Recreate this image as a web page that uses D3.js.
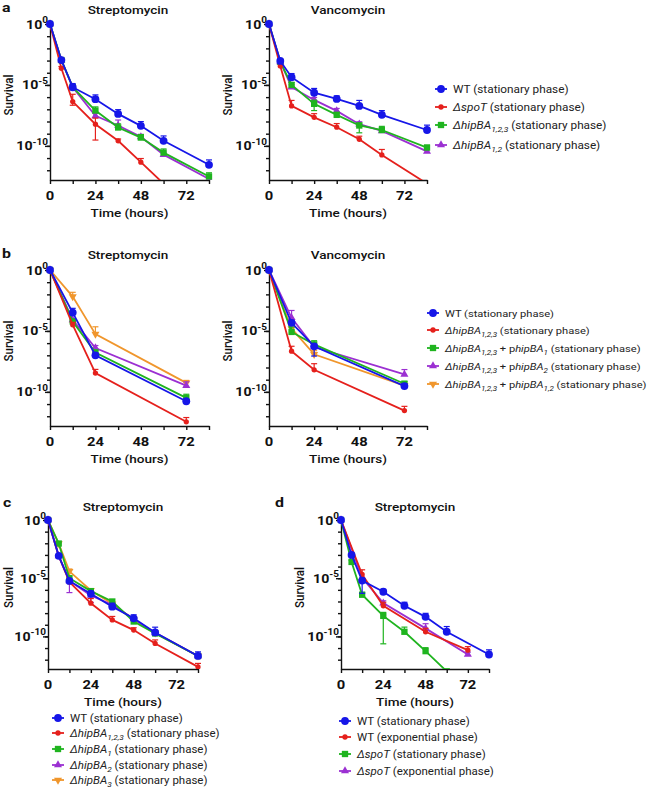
<!DOCTYPE html>
<html><head><meta charset="utf-8">
<script src="https://cdn.jsdelivr.net/npm/d3@7"></script>
<style>body{margin:0;background:#fff} svg{display:block;font-family:Roboto,'Noto Sans',sans-serif}</style>
</head><body><svg id="chart" width="658" height="788"></svg>
<script>
// ---------------- DATA ----------------
const timesFull = [0, 6, 12, 24, 36, 48, 60, 84];
const timesShort = [0, 6, 12, 24, 36, 48, 60];
const timesB = [0, 12, 24, 72];
const timesExp = [0, 12, 24, 48, 72];
const xTicks = [0, 12, 24, 36, 48, 60, 72, 84];
const xTickLabels = [0, 24, 48, 72];
const yLabelExponents = [0, -5, -10];

// panel a, Streptomycin (survival)
const aStrWT     = [1, 1.1e-3, 6.5e-6, 6.8e-7, 4.2e-8, 4.4e-9, 2.6e-10, 2.8e-12];
const aStrSpoT   = [1, 2.3e-4, 4.3e-7, 6.0e-9, 2.6e-10, 4.6e-12, 8e-14];
const aStrHip123 = [1, 1.1e-3, 6.5e-6, 7.9e-8, 3.2e-9, 4.8e-10, 2.8e-11, 3.1e-13];
const aStrHip12  = [1, 1.1e-3, 6.5e-6, 2.9e-8, 4.7e-9, 5.5e-10, 1.9e-11, 1.9e-13];
// panel a, Vancomycin
const aVanWT     = [1, 9.3e-4, 4.3e-5, 2.3e-6, 7.1e-7, 1.9e-7, 3.5e-8, 2.0e-9];
const aVanSpoT   = [1, 3.6e-4, 1.9e-7, 2.2e-8, 3.4e-9, 3.5e-10, 1.8e-11, 8e-14];
const aVanHip123 = [1, 7.9e-4, 1.0e-5, 2.8e-7, 3.5e-8, 4.7e-9, 2.0e-9, 7.2e-11];
const aVanHip12  = [1, 7.9e-4, 6.5e-6, 5.9e-7, 7.4e-8, 6.0e-9, 1.7e-9, 3.5e-11];
// panel b, Streptomycin
const bStrWT   = [1, 3.2e-4, 1.0e-7, 1.7e-11];
const bStrHip  = [1, 3.2e-5, 3.5e-9, 3.5e-13];
const bStrP1   = [1, 6.0e-5, 1.7e-7, 3.2e-11];
const bStrP2   = [1, 8.1e-5, 4.0e-7, 3.3e-10];
const bStrP12  = [1, 6.6e-3, 5.5e-6, 5.5e-10];
// panel b, Vancomycin
const bVanWT   = [1, 4.6e-5, 5.5e-7, 3.0e-10];
const bVanHip  = [1, 2.2e-7, 6.5e-9, 2.9e-12];
const bVanP1   = [1, 8.3e-6, 7.9e-7, 4.6e-10];
const bVanP2   = [1, 1.2e-4, 4.8e-7, 2.7e-9];
const bVanP12  = [1, 1.6e-5, 1.2e-7, 3.3e-10];
// panel c, Streptomycin
const cWT     = [1, 8.3e-4, 5.8e-6, 4.6e-7, 3.6e-8, 3.6e-9, 2.2e-10, 2.1e-12];
const cHip123 = [1, 8.3e-4, 4.7e-6, 7.1e-8, 2.6e-9, 3.5e-10, 2.5e-11, 2.4e-13];
const cHip1   = [1, 9.5e-3, 1.0e-5, 7.8e-7, 1.0e-7, 1.9e-9, 1.8e-10, 2.1e-12];
const cHip2   = [1, 8.3e-4, 5.8e-6, 3.3e-7, 5.1e-8, 3.2e-9, 2.0e-10, 2.1e-12];
const cHip3   = [1, 9.5e-3, 3.9e-5, 8.9e-7, 6.3e-8, 2.8e-9, 2.0e-10, 2.1e-12];
// panel d, Streptomycin
const dWTStat   = [1, 1.0e-3, 6.3e-6, 6.9e-7, 4.3e-8, 4.8e-9, 2.5e-10, 2.8e-12];
const dWTExp    = [1, 2.1e-5, 4.3e-8, 2.5e-10, 6.6e-12];
const dSpoTStat = [1, 2.5e-4, 3.8e-7, 5.8e-9, 2.5e-10, 5.4e-12, 1e-13];
const dSpoTExp  = [1, 1.1e-5, 7.2e-8, 4.9e-10, 2.8e-12];

// error bars (decades above / below the point)
const aStrWTErr = [0,0.1,0.3,0.35,0.35,0.35,0.4,0.4];
const aStrSpoTErr = [0,0.15,0.6,0.5,0.15,0.3,0];
const aStrSpoTErrLo = [0,0,0.3,1.3,0,0,0];
const aStrHip123Err = [0,0,0.2,0.3,0.3,0.25,0.3,0.3];
const aStrHip12Err = [0,0,0.2,0.2,0.45,0.2,0.2,0.2];
const aVanWTErr = [0,0.1,0.3,0.35,0.25,0.45,0.35,0.4];
const aVanSpoTErr = [0,0,0.45,0.3,0.3,0.25,0.45,0];
const aVanHip123Err = [0,0,0.2,0.3,0.2,0.2,0.3,0.2];
const aVanHip123ErrLo = [0,0,0,0.55,0,0.6,0,0];
const aVanHip12Err = [0,0,0.2,0.2,0.2,0.2,0.2,0.2];
const bStrWTErr = [0,0.35,0.2,0.15];
const bStrHipErr = [0,0.2,0.3,0.35];
const bStrP1Err = [0,0.1,0.2,0.3];
const bStrP2Err = [0,0.1,0.2,0.3];
const bStrP12Err = [0,0.35,0.6,0.2];
const bVanWTErr = [0,0.2,0.2,0.2];
const bVanWTErrLo = [0,0,0.8,0];
const bVanHipErr = [0,0.4,0.5,0.35];
const bVanP1Err = [0,0.4,0.3,0.2];
const bVanP2Err = [0,0.6,0.2,0.4];
const bVanP12Err = [0,0,0.3,0.2];
const cWTErr = [0,0,0.1,0.2,0.3,0.3,0.45,0.35];
const cHip123Err = [0,0,0.2,0.4,0.3,0.2,0.3,0.3];
const cHip2ErrLo = [0,0,1.0,0.6,0,0,0,0];
const cHip3Err = [0,0,0.2,0,0,0,0,0];
const dWTStatErr = [0,0,0.2,0.2,0.3,0.3,0.45,0.4];
const dWTStatErrLo = [0,0,1.1,0,0,0,0,0];
const dWTExpErr = [0,0.4,0.3,0.3,0.3];
const dSpoTStatErr = [0,0.15,0.2,0.3,0.4,0.3,0];
const dSpoTStatErrLo = [0,0,0,2.4,0,0,0];
const dSpoTExpErr = [0,0,0.2,0.4,0.2];

// legend labels  (*italic*, _{subscript})
const legendA = ["WT (stationary phase)", "*ΔspoT* (stationary phase)", "*ΔhipBA*_{1,2,3} (stationary phase)", "*ΔhipBA*_{1,2} (stationary phase)"];
const legendB = ["WT (stationary phase)", "*ΔhipBA*_{1,2,3} (stationary phase)", "*ΔhipBA*_{1,2,3} + p*hipBA*_{1} (stationary phase)", "*ΔhipBA*_{1,2,3} + p*hipBA*_{2} (stationary phase)", "*ΔhipBA*_{1,2,3} + p*hipBA*_{1,2} (stationary phase)"];
const legendC = ["WT (stationary phase)", "*ΔhipBA*_{1,2,3} (stationary phase)", "*ΔhipBA*_{1} (stationary phase)", "*ΔhipBA*_{2} (stationary phase)", "*ΔhipBA*_{3} (stationary phase)"];
const legendD = ["WT (stationary phase)", "WT (exponential phase)", "*ΔspoT* (stationary phase)", "*ΔspoT* (exponential phase)"];

// ---------------- STYLE ----------------
const COL = {blue:"#1616e8", red:"#e5201c", green:"#1fb41f", purple:"#9b30d2", orange:"#f0962c"};
const SX = 1.18; // horizontal text stretch of the original figure

const svg = d3.select("#chart");

function parseRich(str){
  const segs=[]; let cur="", it=false, i=0;
  const push=()=>{ if(cur){segs.push({t:cur,it,sub:false}); cur="";} };
  while(i<str.length){
    const ch=str[i];
    if(ch==="*"){ push(); it=!it; i++; }
    else if(ch==="_" && str[i+1]==="{"){ push(); const j=str.indexOf("}",i); segs.push({t:str.slice(i+2,j),it:true,sub:true}); i=j+1; }
    else { cur+=ch; i++; }
  }
  push();
  return segs;
}

function richText(g, x, y, str, size, sx){
  const t=g.append("text").attr("transform",`translate(${x},${y}) scale(${sx},1)`)
    .attr("font-size",size).attr("font-weight",400).attr("fill","#222");
  let shifted=false;
  parseRich(str).forEach(s=>{
    const ts=t.append("tspan").text(s.t);
    if(s.it) ts.attr("font-style","italic");
    if(s.sub){ ts.attr("font-size",size*0.72).attr("dy",size*0.32); shifted=true; }
    else if(shifted){ ts.attr("dy",-size*0.32); shifted=false; }
  });
  return t;
}

function plainText(g, x, y, str, size, weight, anchor){
  return g.append("text").attr("transform",`translate(${x},${y}) scale(${SX},1)`)
    .attr("font-size",size).attr("font-weight",weight).attr("text-anchor",anchor||"start")
    .attr("fill","#111").text(str);
}

function markerPath(shape){
  const sym = d3.symbol();
  if(shape==="circle") return sym.type(d3.symbolCircle).size(48)();
  if(shape==="dot") return sym.type(d3.symbolCircle).size(22)();
  if(shape==="square") return sym.type(d3.symbolSquare).size(40)();
  return sym.type(d3.symbolTriangle).size(28)();
}

let clipId=0;
function panel(cfg){
  const g=svg.append("g");
  const x=d3.scaleLinear().domain([0,84]).range([cfg.x0,cfg.x1]);
  const y=d3.scaleLog().domain([Math.pow(10,-12.8),1]).range([cfg.yBot,cfg.yTop]);
  const id="clip"+(clipId++);
  svg.append("clipPath").attr("id",id).append("rect")
     .attr("x",cfg.x0-8).attr("y",cfg.yTop-10).attr("width",cfg.x1-cfg.x0+20).attr("height",cfg.yBot-cfg.yTop+10);

  // axes
  const minor=d3.range(0,-13,-1).map(e=>Math.pow(10,e));
  g.append("g").attr("transform",`translate(${cfg.x0},0)`)
    .call(d3.axisLeft(y).tickValues(minor).tickSize(3).tickSizeOuter(0).tickFormat(""));
  g.append("g").attr("transform",`translate(${cfg.x0},0)`)
    .call(d3.axisLeft(y).tickValues(yLabelExponents.map(e=>Math.pow(10,e))).tickSize(5).tickSizeOuter(0).tickFormat(""))
    .select(".domain").remove();
  g.append("g").attr("transform",`translate(0,${cfg.yBot})`)
    .call(d3.axisBottom(x).tickValues(xTicks).tickSize(4).tickSizeOuter(0).tickFormat(""));
  g.selectAll(".domain, .tick line").attr("stroke","#111").attr("stroke-width",1.4);

  yLabelExponents.forEach(e=>{
    const t=g.append("text").attr("transform",`translate(${cfg.x0-2},${y(Math.pow(10,e))+4.5}) scale(${SX},1)`)
      .attr("text-anchor","end").attr("font-size",12).attr("font-weight",700).attr("fill","#111");
    t.append("tspan").text("10");
    t.append("tspan").text(String(e)).attr("font-size",8.5).attr("dy",-5.5);
  });
  xTickLabels.forEach(v=>plainText(g,x(v),cfg.yBot+20,String(v),12.5,700,"middle"));
  plainText(g,(cfg.x0+cfg.x1)/2,cfg.yBot+37,"Time (hours)",11.5,500,"middle");
  g.append("text").attr("transform",`translate(${cfg.x0-cfg.survOff},${(cfg.yTop+cfg.yBot)/2-7}) rotate(-90) scale(1,${SX})`)
    .attr("text-anchor","middle").attr("font-size",11.5).attr("font-weight",500).attr("fill","#111").text("Survival");
  plainText(g,cfg.titleX,cfg.titleY,cfg.title,11.5,500,"middle");
  if(cfg.letter) plainText(g,cfg.letter[1],cfg.letter[2],cfg.letter[0],13.5,700,"start");

  // series (draw last legend item first so WT ends on top)
  const plot=g.append("g").attr("clip-path",`url(#${id})`);
  cfg.series.slice().reverse().forEach(s=>{
    const pts=s.t.map((t,i)=>({t,v:s.v[i],up:(s.up||[])[i]||0,lo:(s.lo||[])[i]||0}));
    const sg=plot.append("g");
    sg.append("path").datum(pts)
      .attr("d",d3.line().x(d=>x(d.t)).y(d=>y(d.v)))
      .attr("fill","none").attr("stroke",s.c).attr("stroke-width",1.8);
    pts.forEach(d=>{
      const px=x(d.t), py=y(d.v);
      [[d.up,1],[d.lo,-1]].forEach(([e,dir])=>{
        if(e>0){
          const ey=y(d.v*Math.pow(10,dir*e));
          sg.append("line").attr("x1",px).attr("x2",px).attr("y1",py).attr("y2",ey).attr("stroke",s.c).attr("stroke-width",1.2);
          sg.append("line").attr("x1",px-3).attr("x2",px+3).attr("y1",ey).attr("y2",ey).attr("stroke",s.c).attr("stroke-width",1.2);
        }
      });
    });
    sg.selectAll("path.m").data(pts).enter().append("path").attr("class","m")
      .attr("d",markerPath(s.m))
      .attr("transform",d=>`translate(${x(d.t)},${y(d.v)})${s.m==="tridown"?" rotate(180)":""}`)
      .attr("fill",s.c);
  });
}

function legend(x, ys, labels, series, size, sx){
  const g=svg.append("g");
  labels.forEach((lab,i)=>{
    const s=series[i], cy=ys[i];
    g.append("line").attr("x1",x-6).attr("x2",x+6).attr("y1",cy).attr("y2",cy).attr("stroke",s.c).attr("stroke-width",1.8);
    g.append("path").attr("d",markerPath(s.m)).attr("transform",`translate(${x},${cy})${s.m==="tridown"?" rotate(180)":""}`).attr("fill",s.c);
    richText(g,x+12,cy+3.6,lab,size,sx);
  });
}

// ---------- series definitions ----------
const sA1=[
  {t:timesFull,v:aStrWT,up:aStrWTErr,c:COL.blue,m:"circle"},
  {t:timesShort,v:aStrSpoT,up:aStrSpoTErr,lo:aStrSpoTErrLo,c:COL.red,m:"dot"},
  {t:timesFull,v:aStrHip123,up:aStrHip123Err,c:COL.green,m:"square"},
  {t:timesFull,v:aStrHip12,up:aStrHip12Err,c:COL.purple,m:"tri"}];
const sA2=[
  {t:timesFull,v:aVanWT,up:aVanWTErr,c:COL.blue,m:"circle"},
  {t:timesFull,v:aVanSpoT,up:aVanSpoTErr,c:COL.red,m:"dot"},
  {t:timesFull,v:aVanHip123,up:aVanHip123Err,lo:aVanHip123ErrLo,c:COL.green,m:"square"},
  {t:timesFull,v:aVanHip12,up:aVanHip12Err,c:COL.purple,m:"tri"}];
const sB1=[
  {t:timesB,v:bStrWT,up:bStrWTErr,c:COL.blue,m:"circle"},
  {t:timesB,v:bStrHip,up:bStrHipErr,c:COL.red,m:"dot"},
  {t:timesB,v:bStrP1,up:bStrP1Err,c:COL.green,m:"square"},
  {t:timesB,v:bStrP2,up:bStrP2Err,c:COL.purple,m:"tri"},
  {t:timesB,v:bStrP12,up:bStrP12Err,c:COL.orange,m:"tridown"}];
const sB2=[
  {t:timesB,v:bVanWT,up:bVanWTErr,lo:bVanWTErrLo,c:COL.blue,m:"circle"},
  {t:timesB,v:bVanHip,up:bVanHipErr,c:COL.red,m:"dot"},
  {t:timesB,v:bVanP1,up:bVanP1Err,c:COL.green,m:"square"},
  {t:timesB,v:bVanP2,up:bVanP2Err,c:COL.purple,m:"tri"},
  {t:timesB,v:bVanP12,up:bVanP12Err,c:COL.orange,m:"tridown"}];
const sC=[
  {t:timesFull,v:cWT,up:cWTErr,c:COL.blue,m:"circle"},
  {t:timesFull,v:cHip123,up:cHip123Err,c:COL.red,m:"dot"},
  {t:timesFull,v:cHip1,c:COL.green,m:"square"},
  {t:timesFull,v:cHip2,lo:cHip2ErrLo,c:COL.purple,m:"tri"},
  {t:timesFull,v:cHip3,up:cHip3Err,c:COL.orange,m:"tridown"}];
const sD=[
  {t:timesFull,v:dWTStat,up:dWTStatErr,lo:dWTStatErrLo,c:COL.blue,m:"circle"},
  {t:timesExp,v:dWTExp,up:dWTExpErr,c:COL.red,m:"dot"},
  {t:timesShort,v:dSpoTStat,up:dSpoTStatErr,lo:dSpoTStatErrLo,c:COL.green,m:"square"},
  {t:timesExp,v:dSpoTExp,up:dSpoTExpErr,c:COL.purple,m:"tri"}];

panel({x0:50,x1:209,yTop:24,yBot:180,title:"Streptomycin",titleX:128,titleY:14,letter:["a",2,12],survOff:37,series:sA1});
panel({x0:269,x1:427,yTop:24,yBot:180,title:"Vancomycin",titleX:348,titleY:14,survOff:37,series:sA2});
legend(441,[89,107,125,145],legendA,sA1,10,1.18);
panel({x0:50,x1:209,yTop:270,yBot:426,title:"Streptomycin",titleX:128,titleY:259,letter:["b",2,258],survOff:37,series:sB1});
panel({x0:269,x1:427,yTop:270,yBot:426,title:"Vancomycin",titleX:348,titleY:259,survOff:37,series:sB2});
legend(433,[313,330,348,366,384],legendB,sB1,9.6,1.16);
panel({x0:48,x1:198,yTop:520,yBot:669,title:"Streptomycin",titleX:123,titleY:511,letter:["c",3,507],survOff:35,series:sC});
panel({x0:341,x1:489,yTop:520,yBot:669,title:"Streptomycin",titleX:415,titleY:511,letter:["d",275,507],survOff:37,series:sD});
legend(58,[718,733,749,765,780],legendC,sC,10,1.15);
legend(345,[721,737,754,771],legendD,sD,10,1.15);
</script></body></html>
